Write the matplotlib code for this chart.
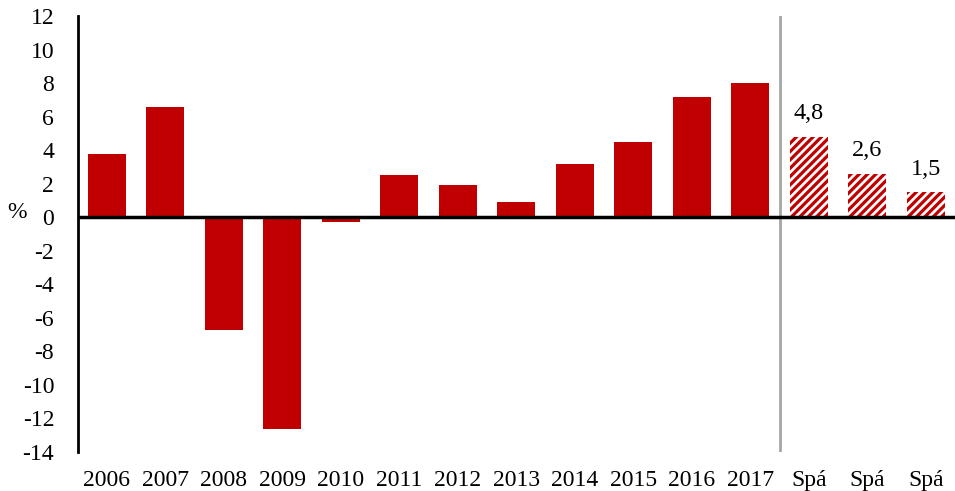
import matplotlib
matplotlib.use("Agg")
import matplotlib.pyplot as plt

# values (%)
categories = ["2006", "2007", "2008", "2009", "2010", "2011", "2012", "2013",
              "2014", "2015", "2016", "2017", "Spá", "Spá", "Spá"]
actual = [3.8, 6.6, -6.7, -12.6, -0.3, 2.5, 1.9, 0.9, 3.2, 4.5, 7.2, 8.0]
forecast = [4.8, 2.6, 1.5]
forecast_labels = ["4,8", "2,6", "1,5"]
yticks = list(range(-14, 13, 2))

RED = "#C00000"

plt.rcParams["font.family"] = ["Liberation Serif", "DejaVu Serif"]
plt.rcParams["axes.unicode_minus"] = False
plt.rcParams["hatch.linewidth"] = 2.3

fig = plt.figure(figsize=(9.55, 4.91), dpi=100)
ax = fig.add_axes([0.0814, 0.0794, 0.9186, 0.888])

n_act = len(actual)
x_act = list(range(n_act))
x_fc = list(range(n_act, n_act + len(forecast)))

ax.bar(x_act, actual, width=0.65, color=RED, linewidth=0)
# forecast bars: red diagonal stripes, no outline
ax.bar(x_fc, forecast, width=0.65, color="white", edgecolor=RED,
       hatch="////", linewidth=0)

for x, v, lab in zip(x_fc, forecast, forecast_labels):
    ax.annotate(lab, (x, v), xytext=(0, 9), textcoords="offset points",
                ha="center", va="bottom", fontsize=17.5)

ax.axhline(0, color="black", linewidth=2.5, zorder=3)
ax.axvline(n_act - 0.5, color="#A6A6A6", linewidth=2, zorder=1)

ax.set_xlim(-0.5, len(categories) - 0.5)
ax.set_ylim(-14, 12)
ax.set_yticks(yticks)
ax.set_yticklabels([str(t) for t in yticks])
ax.set_xticks(range(len(categories)))
ax.set_xticklabels(categories)

for s in ["top", "right", "bottom"]:
    ax.spines[s].set_visible(False)
ax.spines["left"].set_linewidth(2)
ax.tick_params(axis="y", length=0, pad=17, labelsize=17)
ax.tick_params(axis="x", length=0, pad=13, labelsize=17)

fig.text(0.008, 1 - 212 / 491, "%", fontsize=17, va="center")

fig.savefig("out.png", dpi=100)
